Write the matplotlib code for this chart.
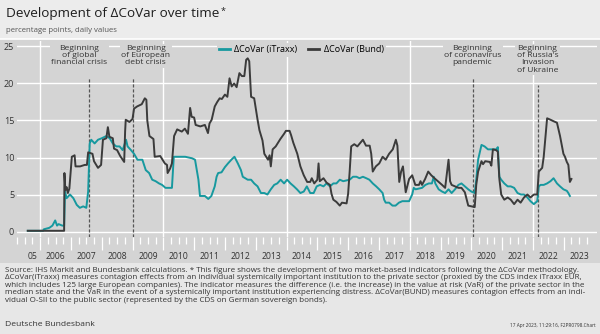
import matplotlib.pyplot as plt
from matplotlib.patches import Rectangle
import matplotlib.transforms as mtransforms

plt.rcParams['font.family'] = ['Open Sans', 'DejaVu Sans']

# time axis in decimal years, values in percentage points
bund_t = [2005.60, 2006.78, 2006.79, 2006.82, 2006.86, 2006.90, 2006.95, 2007.00, 2007.03, 2007.12,
          2007.15, 2007.30, 2007.45, 2007.52, 2007.56, 2007.70, 2007.75, 2007.88, 2007.98, 2008.04,
          2008.15, 2008.20, 2008.25, 2008.36, 2008.40, 2008.50, 2008.60, 2008.73, 2008.76, 2008.78,
          2008.90, 2009.00, 2009.05, 2009.15, 2009.30, 2009.40, 2009.45, 2009.48, 2009.55, 2009.68,
          2009.72, 2009.90, 2010.05, 2010.12, 2010.14, 2010.22, 2010.28, 2010.35, 2010.45, 2010.60,
          2010.70, 2010.80, 2010.87, 2010.92, 2011.00, 2011.05, 2011.20, 2011.35, 2011.45, 2011.50,
          2011.57, 2011.67, 2011.75, 2011.83, 2011.90, 2012.00, 2012.08, 2012.15, 2012.22, 2012.30,
          2012.38, 2012.47, 2012.55, 2012.63, 2012.69, 2012.74, 2012.79, 2012.85, 2012.95, 2013.06,
          2013.12, 2013.22, 2013.28, 2013.40, 2013.45, 2013.49, 2013.55, 2013.65, 2013.80, 2013.92,
          2013.98, 2014.10, 2014.15, 2014.22, 2014.35, 2014.45, 2014.56, 2014.67, 2014.77, 2014.82,
          2014.90, 2015.00, 2015.04, 2015.08, 2015.20, 2015.30, 2015.41, 2015.46, 2015.52, 2015.62,
          2015.73, 2015.80, 2015.95, 2016.00, 2016.05, 2016.10, 2016.20, 2016.30, 2016.40, 2016.48,
          2016.58, 2016.70, 2016.75, 2016.80, 2016.90, 2017.01, 2017.12, 2017.22, 2017.33, 2017.45,
          2017.55, 2017.60, 2017.66, 2017.72, 2017.78, 2017.87, 2017.98, 2018.08, 2018.18, 2018.30,
          2018.35, 2018.40, 2018.50, 2018.60, 2018.70, 2018.83, 2018.94, 2019.05, 2019.15, 2019.26,
          2019.31, 2019.36, 2019.47, 2019.58, 2019.68, 2019.79, 2019.90, 2020.00, 2020.11, 2020.16,
          2020.22, 2020.33, 2020.38, 2020.45, 2020.60, 2020.65, 2020.70, 2020.80, 2020.86, 2020.91,
          2020.97, 2021.07, 2021.18, 2021.28, 2021.39, 2021.50, 2021.60, 2021.71, 2021.82, 2021.92,
          2022.03, 2022.14, 2022.19, 2022.30, 2022.35, 2022.46, 2022.57, 2022.67, 2022.78, 2022.88,
          2022.99, 2023.04, 2023.10, 2023.15, 2023.20, 2023.25]
bund_v = [0.1, 0.1, 7.9, 5.6, 6.0, 5.2, 5.8, 8.5, 10.1, 10.3,
          8.8, 8.8, 9.0, 9.0, 10.7, 10.5, 9.5, 8.6, 9.0, 12.4,
          12.6, 14.1, 12.8, 12.6, 11.2, 11.0, 10.2, 9.4, 13.5, 15.1,
          14.8, 15.2, 16.6, 16.9, 17.2, 18.0, 17.8, 15.0, 12.9, 12.5,
          10.1, 10.2, 9.2, 9.0, 7.9, 8.5, 9.2, 12.9, 13.8, 13.5,
          13.9, 13.2, 16.7, 15.5, 15.4, 14.4, 14.2, 14.4, 13.3, 14.6,
          15.1, 16.9, 17.5, 18.0, 17.9, 18.5, 18.2, 20.7, 19.6, 20.0,
          19.5, 21.4, 21.0, 21.0, 23.2, 23.4, 23.0, 18.2, 18.0, 15.1,
          13.7, 12.3, 10.5, 9.7, 10.3, 8.8, 11.1, 11.5, 12.5, 13.2,
          13.6, 13.6, 13.0, 12.0, 10.5, 8.8, 7.6, 6.7, 6.7, 7.2,
          6.5, 7.0, 9.2, 6.8, 7.2, 6.6, 6.3, 5.1, 4.3, 4.0,
          3.5, 3.9, 3.8, 5.1, 8.1, 11.5, 11.8, 11.5, 12.0, 12.4,
          11.6, 11.6, 10.5, 8.1, 8.8, 9.2, 10.1, 9.7, 10.5, 11.1,
          12.4, 11.6, 6.7, 8.1, 8.8, 5.3, 7.1, 7.6, 6.3, 6.3,
          6.8, 6.3, 7.1, 8.1, 7.6, 7.1, 6.7, 6.3, 5.9, 9.7,
          6.8, 6.3, 6.1, 5.9, 5.9, 5.3, 3.5, 3.4, 3.3, 6.3,
          8.1, 9.5, 9.1, 9.5, 9.4, 8.9, 11.1, 11.0, 10.8, 7.1,
          5.0, 4.3, 4.6, 4.3, 3.7, 4.3, 3.9, 4.6, 5.0, 4.6,
          5.0, 5.0, 8.1, 8.6, 10.1, 15.3, 15.1, 14.9, 14.7, 12.9,
          10.5, 10.1, 9.4, 9.0, 6.7, 7.1]

itraxx_t = [2005.60, 2006.10, 2006.12, 2006.30, 2006.40, 2006.49, 2006.55, 2006.60, 2006.72, 2006.78,
            2006.81, 2006.86, 2006.97, 2007.08, 2007.19, 2007.29, 2007.40, 2007.50, 2007.56, 2007.61,
            2007.66, 2007.77, 2007.88, 2008.00, 2008.15, 2008.26, 2008.36, 2008.47, 2008.58, 2008.68,
            2008.79, 2008.84, 2008.95, 2009.05, 2009.16, 2009.32, 2009.43, 2009.54, 2009.64, 2009.75,
            2009.86, 2009.96, 2010.07, 2010.28, 2010.34, 2010.50, 2010.71, 2010.93, 2011.03, 2011.14,
            2011.19, 2011.35, 2011.46, 2011.56, 2011.67, 2011.73, 2011.78, 2011.89, 2012.00, 2012.10,
            2012.21, 2012.31, 2012.36, 2012.42, 2012.52, 2012.58, 2012.74, 2012.85, 2012.95, 2013.06,
            2013.17, 2013.28, 2013.38, 2013.49, 2013.60, 2013.70, 2013.81, 2013.92, 2014.02, 2014.13,
            2014.24, 2014.34, 2014.45, 2014.56, 2014.66, 2014.77, 2014.88, 2014.98, 2015.09, 2015.20,
            2015.30, 2015.41, 2015.52, 2015.62, 2015.73, 2015.84, 2016.05, 2016.16, 2016.27, 2016.37,
            2016.48, 2016.59, 2016.69, 2016.80, 2016.91, 2017.01, 2017.12, 2017.17, 2017.22, 2017.33,
            2017.44, 2017.54, 2017.65, 2017.76, 2017.87, 2017.98, 2018.08, 2018.13, 2018.19, 2018.40,
            2018.51, 2018.62, 2018.72, 2018.78, 2018.83, 2018.94, 2019.05, 2019.15, 2019.26, 2019.36,
            2019.47, 2019.58, 2019.68, 2019.79, 2019.90, 2020.00, 2020.11, 2020.16, 2020.22, 2020.33,
            2020.43, 2020.54, 2020.65, 2020.81, 2020.86, 2020.91, 2020.97, 2021.07, 2021.18, 2021.28,
            2021.39, 2021.50, 2021.61, 2021.71, 2021.82, 2021.92, 2022.03, 2022.14, 2022.19, 2022.25,
            2022.35, 2022.46, 2022.57, 2022.67, 2022.78, 2022.88, 2022.99, 2023.10, 2023.15, 2023.20]
itraxx_v = [0.1, 0.1, 0.3, 0.5, 0.8, 1.5, 0.8, 1.0, 0.8, 0.8,
            5.4, 4.5, 5.0, 4.5, 3.6, 3.2, 3.4, 3.2, 5.4, 11.9,
            12.4, 11.9, 12.4, 12.6, 12.9, 12.6, 11.9, 11.5, 11.5, 11.0,
            12.4, 11.5, 11.0, 10.5, 9.7, 9.7, 8.3, 7.9, 7.0, 6.8,
            6.5, 6.3, 5.9, 5.9, 10.1, 10.1, 10.1, 9.9, 9.7, 7.0,
            4.8, 4.8, 4.4, 4.8, 6.1, 7.4, 7.9, 8.0, 8.7, 9.2,
            9.7, 10.1, 9.7, 9.2, 8.3, 7.4, 7.0, 7.0, 6.5, 6.1,
            5.2, 5.2, 5.0, 5.7, 6.3, 6.5, 7.0, 6.5, 7.0, 6.5,
            6.1, 5.7, 5.2, 5.4, 6.1, 5.2, 5.2, 6.1, 6.3, 6.1,
            6.5, 6.1, 6.5, 6.5, 7.0, 6.8, 7.0, 7.4, 7.4, 7.2,
            7.4, 7.2, 7.0, 6.5, 6.1, 5.7, 5.2, 4.3, 3.9, 3.9,
            3.5, 3.5, 3.9, 4.1, 4.1, 4.1, 5.0, 5.9, 5.7, 5.9,
            6.3, 6.5, 6.5, 7.4, 6.5, 5.7, 5.4, 5.2, 5.7, 5.2,
            5.7, 6.3, 6.5, 6.1, 5.7, 5.4, 5.2, 7.0, 9.7, 11.7,
            11.5, 11.1, 11.1, 11.1, 11.4, 7.4, 7.0, 6.5, 6.1, 6.1,
            5.9, 5.2, 5.0, 5.0, 4.6, 4.1, 3.7, 4.1, 6.1, 6.3,
            6.3, 6.5, 6.8, 7.2, 6.5, 6.1, 5.7, 5.5, 5.2, 4.8]

events_t = [2007.60, 2009.01, 2020.04, 2022.15]
events_label = ["Beginning\nof global\nfinancial crisis",
                "Beginning\nof European\ndebt crisis",
                "Beginning\nof coronavirus\npandemic",
                "Beginning\nof Russia's\nInvasion\nof Ukraine"]
label_t = [2007.28, 2009.43, 2020.04, 2022.15]
events_top = [20.9, 20.9, 20.9, 19.8]

years = list(range(2005, 2024))
year_labels = ["05"] + [str(y) for y in range(2006, 2024)]

header_bg = "#ececec"
panel_bg = "#d4d4d4"
footer_bg = "#e7e7e7"
teal = "#17999f"
dark = "#3b3b3b"

W, H = 600, 334
fig = plt.figure(figsize=(6, 3.34), dpi=100, facecolor=header_bg)
fig.patches.append(Rectangle((0, 1 - 263 / H), 1, (263 - 39) / H, transform=fig.transFigure,
                             facecolor=panel_bg, edgecolor="none", zorder=-10))
fig.patches.append(Rectangle((0, 0), 1, 1 - 263 / H, transform=fig.transFigure,
                             facecolor=footer_bg, edgecolor="none", zorder=-10))
fig.lines.append(plt.Line2D([0, 1], [1 - 38.5 / H, 1 - 38.5 / H], transform=fig.transFigure,
                            color="white", lw=1.2))

ax = fig.add_axes([17 / W, 1 - 237 / H, 580 / W, 196 / H])
ax.set_facecolor(panel_bg)
for s in ax.spines.values():
    s.set_visible(False)

ax.set_xlim(2005.487, 2024.08)
ax.set_ylim(-0.74, 25.74)

for v in [0, 5, 10, 15, 20, 25]:
    ax.axhline(v, color="white", lw=1.0, zorder=0)
for y in [2006, 2010, 2014, 2018, 2022]:
    ax.axvline(y, color="white", lw=1.0, zorder=0)

ax.plot(itraxx_t, itraxx_v, color=teal, lw=1.4, label="ΔCoVar (iTraxx)", zorder=3)
ax.plot(bund_t, bund_v, color=dark, lw=1.4, label="ΔCoVar (Bund)", zorder=3)

for t, top in zip(events_t, events_top):
    ax.plot([t, t], [-0.74, top], color="#555555", lw=0.9, ls=(0, (2.5, 1.5)), zorder=2)
for t, lab in zip(label_t, events_label):
    ax.text(t, 25.2, lab, ha="center", va="top", fontsize=6.1, color="#333333", linespacing=1.05,
            bbox=dict(facecolor=panel_bg, edgecolor="none", pad=1.0), zorder=4)

leg = ax.legend(loc="center", bbox_to_anchor=(0.49, 0.955), ncol=2, fontsize=6.5, frameon=True,
                facecolor=panel_bg, edgecolor="none", framealpha=1, fancybox=False,
                handlelength=1.2, handletextpad=0.5, columnspacing=1.2, borderpad=0.25)
for line in leg.get_lines():
    line.set_linewidth(2.0)
leg.set_zorder(5)

ax.set_yticks([0, 5, 10, 15, 20, 25])
ax.tick_params(axis="y", length=0, pad=2, labelsize=6.5, labelcolor="#333333")
ax.set_xticks(years[1:])
ax.set_xticks([y + q / 4 for y in years for q in (1, 2, 3)], minor=True)
ax.set_xticklabels([])
ax.tick_params(axis="x", which="major", direction="out", length=9, width=0.9, color="white")
ax.tick_params(axis="x", which="minor", direction="out", length=5, width=0.9, color="white")
tr = mtransforms.blended_transform_factory(ax.transData, ax.transAxes)
for y, lab in zip(years, year_labels):
    xc = y + 0.5 if y > 2005 else (2005.487 + 2006) / 2
    ax.text(xc, -0.097, lab, transform=tr, ha="center", va="center", fontsize=6.2, color="#333333")

title = fig.text(6 / W, 1 - 13 / H, "Development of ΔCoVar over time", fontsize=9.7,
                 color="#1e1e1e", va="center", ha="left")
ax.annotate("*", xy=(1, 0.95), xycoords=title, xytext=(1, 0), textcoords="offset points",
            fontsize=6.5, va="top", ha="left", color="#1e1e1e", annotation_clip=False)
fig.text(6 / W, 1 - 30.5 / H, "percentage points, daily values", fontsize=5.6, color="#555555",
         va="center", ha="left")

notes = ("Source: IHS Markit and Bundesbank calculations. * This figure shows the development of two market-based indicators following the ΔCoVar methodology.\n"
         "ΔCoVar(iTraxx) measures contagion effects from an individual systemically important institution to the private sector (proxied by the CDS index iTraxx EUR,\n"
         "which includes 125 large European companies). The indicator measures the difference (i.e. the increase) in the value at risk (VaR) of the private sector in the\n"
         "median state and the VaR in the event of a systemically important institution experiencing distress. ΔCoVar(BUND) measures contagion effects from an indi-\n"
         "vidual O-SII to the public sector (represented by the CDS on German sovereign bonds).")
fig.text(5 / W, 1 - 266.5 / H, notes, fontsize=5.75, color="#333333", va="top", ha="left", linespacing=1.13)
fig.text(5 / W, 1 - 324 / H, "Deutsche Bundesbank", fontsize=6.1, color="#333333", va="center", ha="left")
fig.text(596 / W, 1 - 326 / H, "17 Apr 2023, 11:29:16, F2PR0798.Chart", fontsize=3.4, color="#333333",
         va="center", ha="right")

fig.savefig("out.png", dpi=100, facecolor=fig.get_facecolor())
